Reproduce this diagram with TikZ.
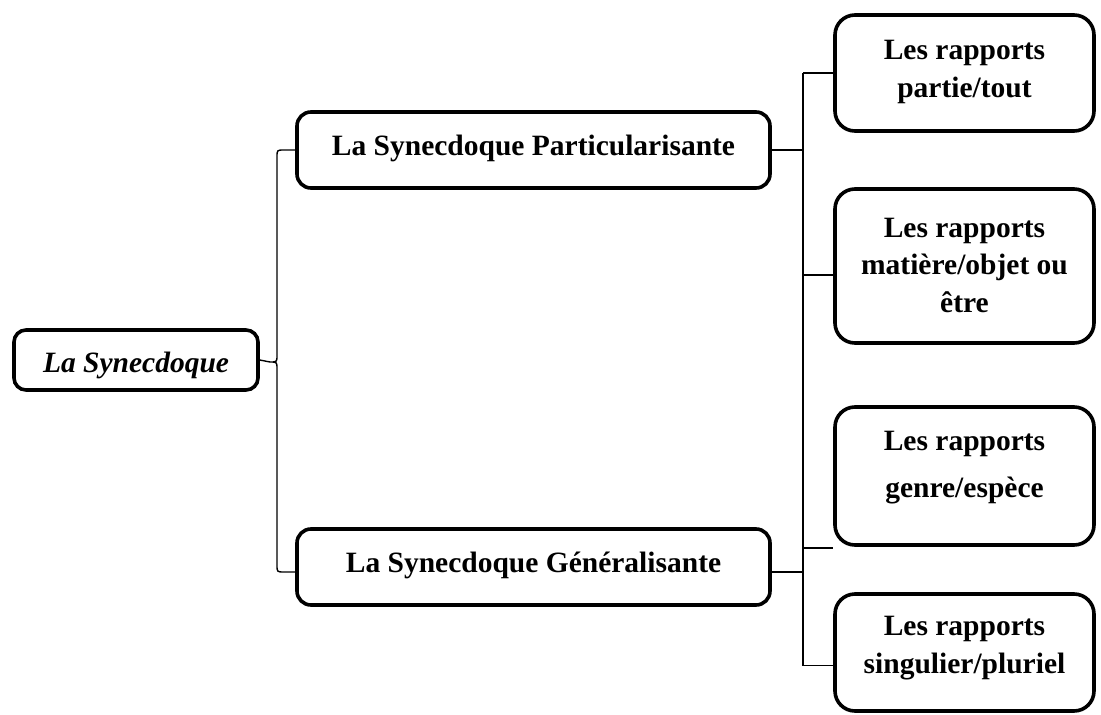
\documentclass[tikz,border=0pt]{standalone}
\usepackage{fontspec}
\setmainfont{Liberation Serif}
\begin{document}
\begin{tikzpicture}[x=1pt,y=-1pt,
  box/.style={draw=black,line width=3.6pt,inner xsep=0pt,inner ysep=0pt,
    align=center,anchor=base,font=\bfseries\fontsize{29.5}{37.5}\selectfont},
  rbox/.style={box,rounded corners=20pt,minimum width=259pt},
  mbox/.style={box,rounded corners=14pt,minimum width=473pt},
  conn/.style={draw=black,line width=1.4pt}]
\useasboundingbox (0,0) rectangle (1101,715);
% boxes (placed at the baseline of their last line)
\node[box,rounded corners=12pt,minimum width=244pt,text height=42pt,text depth=18pt]
  (R) at (136,372) {\itshape La Synecdoque};
\node[mbox,text height=43pt,text depth=33pt] (P) at (533.5,155) {La Synecdoque Particularisante};
\node[mbox,text height=43pt,text depth=33pt] (G) at (533.5,572) {La Synecdoque Généralisante};
\node[rbox,text height=82pt,text depth=34pt] (B1) at (964.5,97) {Les rapports\\partie/tout};
\node[rbox,text height=123pt,text depth=31pt] (B2) at (964.5,312) {Les rapports\\matière/objet ou\\être};
\node[rbox,text height=90pt,text depth=48pt,font=\bfseries\fontsize{29.5}{47}\selectfont] (B3) at (964.5,497) {Les rapports\\genre/espèce};
\node[rbox,text height=79pt,text depth=38pt] (B4) at (964.5,673) {Les rapports\\singulier/pluriel};
% left curly bracket
\coordinate (lx) at (277,0);
\coordinate (cusp) at (270,362);
\coordinate (pw) at (P.west);
\coordinate (gw) at ([yshift=-5pt]G.west);
\draw[conn] (pw) -- ([xshift=-11pt]pw) .. controls (pw -| lx) .. ([yshift=-7pt]pw -| lx)
  -- ([yshift=7pt]cusp -| lx) .. controls (cusp -| lx) .. (cusp)
  .. controls (cusp -| lx) .. ([yshift=-7pt]cusp -| lx)
  -- ([yshift=7pt]gw -| lx) .. controls (gw -| lx) .. ([xshift=-11pt]gw) -- (gw);
\draw[conn] (R.east) -- (cusp);
% right bracket
\coordinate (sx) at (803,0);
\coordinate (b2s) at ([yshift=-9pt]B2.west);
\coordinate (b3s) at ([yshift=-1pt]B3.south west);
\coordinate (b4s) at ([yshift=-13pt]B4.west);
\coordinate (ge) at ([yshift=-5pt]G.east);
\draw[conn] (B1.west -| sx) -- (b4s -| sx);
\draw[conn] (P.east) -- (P.east -| sx);
\draw[conn] (ge) -- (ge -| sx);
\draw[conn] (B1.west -| sx) -- (B1.west);
\draw[conn] (b2s -| sx) -- (b2s);
\draw[conn] (b3s -| sx) -- (b3s);
\draw[conn] (b4s -| sx) -- (b4s);
\end{tikzpicture}
\end{document}
